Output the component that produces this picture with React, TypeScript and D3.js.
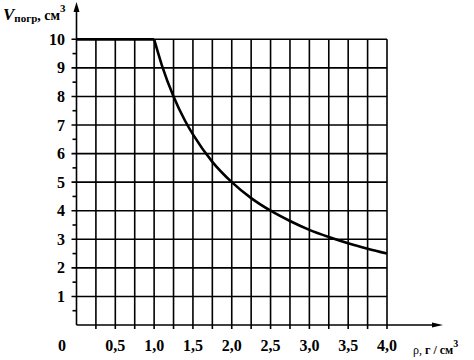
import React from "react";
import * as d3 from "d3";

const xTickValues = [0.5, 1.0, 1.5, 2.0, 2.5, 3.0, 3.5, 4.0];
const xTickLabels = ["0,5", "1,0", "1,5", "2,0", "2,5", "3,0", "3,5", "4,0"];
const yTickValues = [1, 2, 3, 4, 5, 6, 7, 8, 9, 10];
const gridX = [0.25, 0.5, 0.75, 1.0, 1.25, 1.5, 1.75, 2.0, 2.25, 2.5, 2.75, 3.0, 3.25, 3.5, 3.75, 4.0];
const rho = [0, 0.25, 0.5, 0.75, 1.0, 1.1, 1.25, 1.4, 1.5, 1.75, 2.0, 2.25, 2.5, 2.75, 3.0, 3.25, 3.5, 3.75, 4.0];
const volume = [10, 10, 10, 10, 10, 9.09, 8.0, 7.14, 6.67, 5.71, 5.0, 4.44, 4.0, 3.64, 3.33, 3.08, 2.86, 2.67, 2.5];

export default function App() {
  const W = 474, H = 360;
  const x = d3.scaleLinear().domain([0, 4]).range([76.5, 387]);
  const y = d3.scaleLinear().domain([0, 10]).range([325, 39.3]);
  const pts = rho.map((r, i) => [r, volume[i]] as [number, number]);
  const flat = pts.filter((p) => p[0] <= 1);
  const falling = pts.filter((p) => p[0] >= 1);
  const lineFlat = d3.line<[number, number]>().x((p) => x(p[0])).y((p) => y(p[1]));
  const lineCurve = d3.line<[number, number]>().x((p) => x(p[0])).y((p) => y(p[1])).curve(d3.curveMonotoneX);
  const font = "'Liberation Serif', 'Times New Roman', serif";
  const halfTicks = d3.range(0.5, 10, 1);
  return (
    <svg width={W} height={H} style={{ position: "absolute", left: 0, top: 0, background: "#fff" }}>
      <g stroke="#000" strokeWidth={1.6} fill="none">
        {gridX.map((v) => (
          <line key={"gx" + v} x1={x(v)} x2={x(v)} y1={y(10)} y2={y(0) + 4} />
        ))}
        {yTickValues.map((v) => (
          <line key={"gy" + v} x1={x(0) - 5} x2={x(4)} y1={y(v)} y2={y(v)} />
        ))}
        {halfTicks.map((v) => (
          <line key={"h" + v} x1={x(0) - 4} x2={x(0)} y1={y(v)} y2={y(v)} />
        ))}
        <line x1={x(0)} x2={x(0)} y1={y(0)} y2={10} />
        <line x1={x(0)} x2={434} y1={y(0)} y2={y(0)} />
      </g>
      <path d={`M${x(0)},2 L${x(0) - 3},12 L${x(0) + 3},12 Z`} fill="#000" />
      <path d={`M443,${y(0)} L432,${y(0) - 2.5} L432,${y(0) + 2.5} Z`} fill="#000" />
      <path d={lineFlat(flat) || ""} fill="none" stroke="#000" strokeWidth={2.8} />
      <path d={lineCurve(falling) || ""} fill="none" stroke="#000" strokeWidth={2.6} />
      <g fontFamily={font} fontWeight="bold" fontSize={16} fill="#000">
        {yTickValues.map((v) => (
          <text key={"yl" + v} x={65} y={y(v)} dy="0.35em" textAnchor="end">{v}</text>
        ))}
        {xTickValues.map((v, i) => (
          <text key={"xl" + v} x={x(v)} y={351} textAnchor="middle">{xTickLabels[i]}</text>
        ))}
        <text x={62} y={351} textAnchor="middle">0</text>
        <text x={3} y={20}>
          <tspan fontStyle="italic" fontSize={17}>V</tspan>
          <tspan fontSize={11} dy={2}>погр</tspan>
          <tspan fontSize={14} dy={-2}>, см</tspan>
          <tspan fontSize={11} dy={-8}>3</tspan>
        </text>
      </g>
      <text x={413} y={354} fontFamily={font} fontSize={12} fill="#000">
        <tspan>ρ, </tspan>
        <tspan fontWeight="bold">г / см</tspan>
        <tspan fontWeight="bold" fontSize={10} dy={-7}>3</tspan>
      </text>
    </svg>
  );
}
